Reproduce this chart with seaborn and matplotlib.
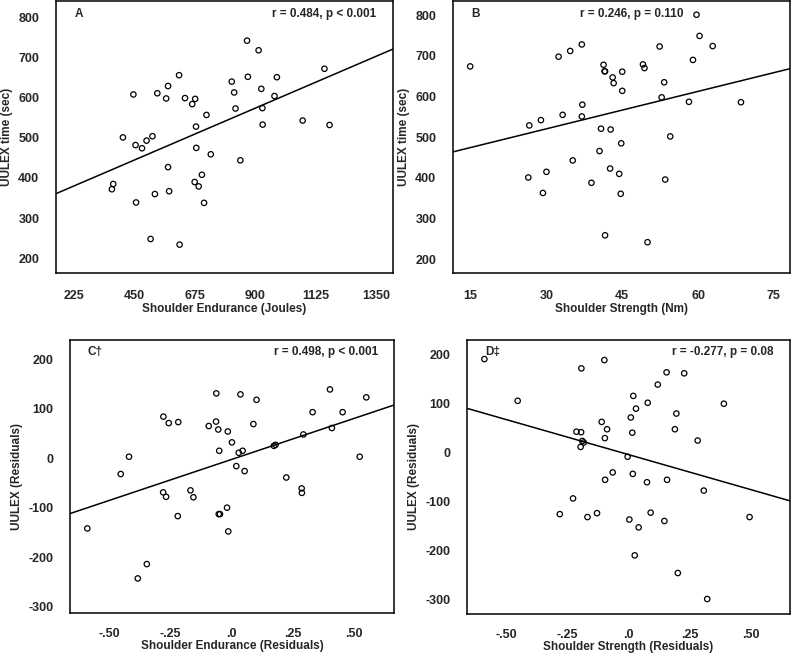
import numpy as np
import matplotlib
matplotlib.use("Agg")
import matplotlib.pyplot as plt
import seaborn as sns

# =========================================================================== #
# ______________________________    |DATA|     ______________________________ #
# =========================================================================== #
# -- Panel A: shoulder endurance (Joules) vs UULEX time (sec)
endur_j = [870, 913, 1158, 617, 873, 981, 813, 576, 923, 447, 536, 822, 569,
           639, 677, 666, 972, 827, 927, 719, 1077, 680, 928, 1177, 408, 518,
           496, 455, 479, 681, 735, 845, 576, 702, 675, 690, 372, 367, 580,
           527, 457, 710, 511, 619]
uulex_a = [742, 718, 672, 656, 652, 651, 640, 629, 622, 608, 611, 613, 598,
           599, 597, 584, 604, 573, 574, 557, 543, 528, 533, 532, 501, 504,
           493, 482, 474, 475, 459, 444, 427, 408, 390, 379, 385, 372, 367,
           360, 339, 338, 248, 234]

# -- Panel B: shoulder strength (Nm) vs UULEX time (sec)
strength_nm = [59.7, 60.3, 62.9, 52.4, 37.0, 34.7, 32.4, 14.9, 59.0, 41.3,
               49.1, 49.4, 41.5, 41.6, 45.0, 43.1, 43.3, 53.3, 45.0, 52.8,
               58.2, 68.5, 37.1, 33.2, 37.0, 28.9, 26.6, 40.8, 42.7, 54.5,
               44.8, 40.5, 35.2, 42.6, 30.0, 44.4, 26.4, 53.5, 38.9, 29.3,
               44.7, 41.6, 50.0]
uulex_b = [801, 749, 724, 723, 728, 712, 698, 674, 690, 678, 679, 670, 662,
           662, 661, 647, 633, 635, 614, 598, 587, 586, 580, 555, 551, 542,
           529, 521, 519, 502, 485, 466, 443, 423, 415, 410, 401, 396, 388,
           363, 361, 259, 242]

# -- Panel C: residuals, endurance
endur_res = [0.403, -0.063, 0.036, 0.552, 0.102, -0.280, 0.332, 0.455, -0.258,
             -0.219, -0.064, -0.094, 0.089, 0.411, -0.055, -0.016, 0.294,
             0.001, 0.173, 0.180, -0.051, 0.029, 0.045, -0.421, 0.525, 0.019,
             0.053, -0.455, 0.224, 0.287, -0.169, -0.281, 0.288, -0.269,
             -0.157, -0.019, -0.221, -0.053, -0.048, -0.592, -0.014, -0.348,
             -0.385]
uulex_res_c = [139, 131, 129, 123, 118, 84, 93, 93, 71, 73, 74, 65, 69, 61, 58,
               54, 48, 32, 25, 27, 15, 11, 15, 3, 3, -16, -26, -32, -39, -61,
               -65, -69, -70, -78, -79, -100, -117, -113, -113, -142, -148,
               -214, -243]

# -- Panel D: residuals, strength
strength_res = [-0.588, -0.098, -0.192, 0.156, 0.228, 0.120, 0.020, -0.452,
                0.079, 0.390, 0.031, 0.010, 0.196, -0.109, -0.087, 0.190,
                -0.212, -0.193, 0.016, -0.096, 0.283, -0.188, -0.182, -0.195,
                -0.003, -0.064, 0.018, -0.095, 0.158, 0.076, 0.308, -0.226,
                -0.280, -0.128, 0.091, -0.167, 0.495, 0.004, 0.147, 0.042,
                0.026, 0.202, 0.322]
uulex_res_d = [190, 188, 171, 163, 161, 138, 115, 105, 101, 99, 89, 71, 79, 62,
               47, 47, 42, 41, 40, 29, 24, 23, 20, 11, -9, -41, -44, -56, -56,
               -61, -78, -94, -126, -124, -123, -132, -132, -137, -140, -153,
               -210, -246, -299]

x_ticks_a = [225, 450, 675, 900, 1125, 1350]
x_ticks_b = [15, 30, 45, 60, 75]
y_ticks_ab = [200, 300, 400, 500, 600, 700, 800]
x_ticks_res = [-0.50, -0.25, 0.0, 0.25, 0.50]
x_labels_res = ["-.50", "-.25", ".0", ".25", ".50"]
y_ticks_res = [-300, -200, -100, 0, 100, 200]

stats = ["r = 0.484, p < 0.001", "r = 0.246, p = 0.110",
         "r = 0.498, p < 0.001", "r = -0.277, p = 0.08"]
letters = ["A", "B", "C\u2020", "D\u2021"]

# =========================================================================== #
# ___________________________    |FUNCTIONS|     ____________________________ #
# =========================================================================== #

def panel(ax, x, y, xlim, ylim):
	""" Scatter of open circles plus the least squares line across the axes. """
	ax.set_xlim(*xlim)
	ax.set_ylim(*ylim)
	sns.regplot(x=np.array(x), y=np.array(y), ax=ax, ci=None, truncate=False,
	            scatter_kws=dict(s=15, color="black", facecolors="none",
	                             linewidths=0.9, alpha=1, zorder=3),
	            line_kws=dict(color="black", lw=1.1))
	ax.set_xlim(*xlim)
	ax.set_ylim(*ylim)
	for sp in ax.spines.values():
		sp.set_linewidth(1.1)
		sp.set_color("black")
	ax.tick_params(direction="out", length=3, width=0.9, color="black",
	               labelsize=9, pad=9)


# =========================================================================== #
# ______________________________    |MAIN|     ______________________________ #
# =========================================================================== #
sns.set_theme(style="white")
plt.rcParams["font.family"] = ["Liberation Sans", "DejaVu Sans"]
plt.rcParams["font.weight"] = "bold"
plt.rcParams["axes.labelweight"] = "bold"
plt.rcParams["axes.unicode_minus"] = False

fig = plt.figure(figsize=(7.91, 6.55), dpi=100)
ax_a = fig.add_axes([0.0708, 0.583, 0.426, 0.415])
ax_b = fig.add_axes([0.5727, 0.583, 0.426, 0.415])
ax_c = fig.add_axes([0.0885, 0.064, 0.410, 0.417])
ax_d = fig.add_axes([0.5904, 0.063, 0.408, 0.418])

panel(ax_a, endur_j, uulex_a, (159, 1413), (163, 840))
ax_a.set_xticks(x_ticks_a)
ax_a.set_yticks(y_ticks_ab)
ax_a.set_xlabel("Shoulder Endurance (Joules)", fontsize=8.5, labelpad=1)
ax_a.set_ylabel("UULEX time (sec)", fontsize=8.5, labelpad=4)

panel(ax_b, strength_nm, uulex_b, (11.5, 78.2), (166, 834))
ax_b.set_xticks(x_ticks_b)
ax_b.set_yticks(y_ticks_ab)
ax_b.set_xlabel("Shoulder Strength (Nm)", fontsize=8.5, labelpad=1)
ax_b.set_ylabel("UULEX time (sec)", fontsize=8.5, labelpad=4)

panel(ax_c, endur_res, uulex_res_c, (-0.663, 0.667), (-313, 239))
ax_c.set_xticks(x_ticks_res, x_labels_res)
ax_c.set_yticks(y_ticks_res)
ax_c.tick_params(axis="x", pad=8)
ax_c.set_xlabel("Shoulder Endurance (Residuals)", fontsize=8.5, labelpad=0)
ax_c.set_ylabel("UULEX (Residuals)", fontsize=8.5, labelpad=4)

panel(ax_d, strength_res, uulex_res_d, (-0.659, 0.659), (-329, 229))
ax_d.set_xticks(x_ticks_res, x_labels_res)
ax_d.set_yticks(y_ticks_res)
ax_d.tick_params(axis="x", pad=8)
ax_d.set_xlabel("Shoulder Strength (Residuals)", fontsize=8.5, labelpad=0)
ax_d.set_ylabel("UULEX (Residuals)", fontsize=8.5, labelpad=4)

# -- Panel letters and correlation text
for ax, let in zip([ax_a, ax_b, ax_c, ax_d], letters):
	ax.text(0.055, 0.955, let, transform=ax.transAxes, fontsize=8.5,
	        fontweight="bold", ha="left", va="center")
for ax, st in zip([ax_a, ax_c, ax_d], [stats[0], stats[2], stats[3]]):
	ax.text(0.95, 0.955, st, transform=ax.transAxes, fontsize=8.5,
	        fontweight="bold", ha="right", va="center")
ax_b.text(0.53, 0.955, stats[1], transform=ax_b.transAxes, fontsize=8.5,
          fontweight="bold", ha="center", va="center")

fig.savefig("out.png", dpi=100)
